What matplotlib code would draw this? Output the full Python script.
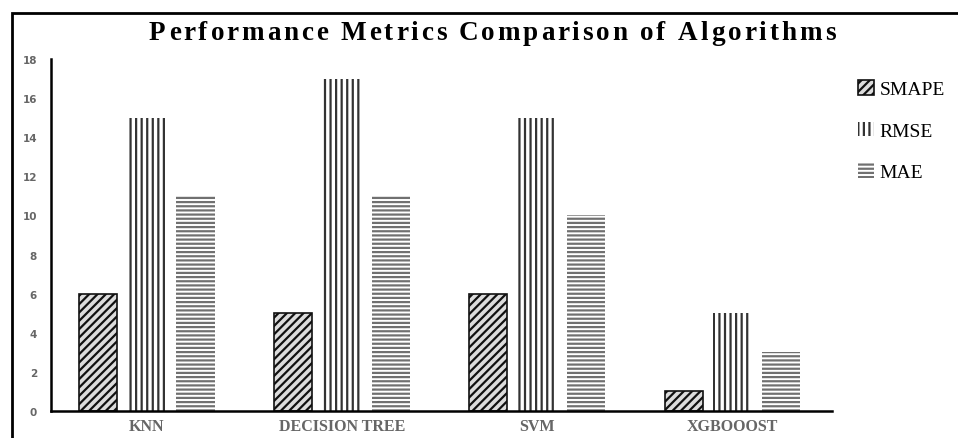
import numpy as np
import matplotlib.pyplot as plt
from matplotlib.patches import Rectangle
from matplotlib.textpath import TextPath
from matplotlib.font_manager import FontProperties

algorithms = ['KNN', 'DECISION TREE', 'SVM', 'XGBOOOST']
smape = [6, 5, 6, 1]
rmse = [15, 17, 15, 5]
mae = [11, 11, 10, 3]
yticks = [0, 2, 4, 6, 8, 10, 12, 14, 16, 18]
title = 'Performance Metrics Comparison of Algorithms'

plt.rcParams['hatch.linewidth'] = 1.6


def spaced_text(fig, s, x0, x1, y, fp):
    # lay out characters one by one so the string fills x0..x1 (pixels)
    widths = []
    for ch in s:
        if ch == ' ':
            w = TextPath((0, 0), 'a a', prop=fp).get_extents().width - \
                TextPath((0, 0), 'aa', prop=fp).get_extents().width
        else:
            w = TextPath((0, 0), ch + 'l', prop=fp).get_extents().width - \
                TextPath((0, 0), 'l', prop=fp).get_extents().width
        widths.append(w * 100 / 72)
    track = (x1 - x0 - sum(widths)) / (len(s) - 1)
    x = x0
    for ch, w in zip(s, widths):
        fig.text(x / 958, 1 - y / 439, ch, ha='left', va='center',
                 fontproperties=fp)
        x += w + track


fig = plt.figure(figsize=(9.58, 4.39), dpi=100)
ax = fig.add_axes([51 / 958, 27 / 439, 781 / 958, 352 / 439])

# outer frame of the picture
fig.patches.append(Rectangle((12 / 958, -0.05), 1.1, (439 - 14) / 439 + 0.05,
                             transform=fig.transFigure, fill=False,
                             edgecolor='black', linewidth=2))

x = np.arange(len(algorithms))
w = 0.195
b1 = ax.bar(x - 0.25, smape, w, facecolor='#dcdcdc', edgecolor='#111111',
            hatch='////', linewidth=1.2, label='SMAPE')
b2 = ax.bar(x, rmse, w, facecolor='white', edgecolor='#333333',
            hatch='|||', linewidth=0, label='RMSE')
b3 = ax.bar(x + 0.25, mae, w, facecolor='white', edgecolor='#707070',
            hatch='----', linewidth=0, label='MAE')

ax.set_xlim(-0.49, 3.51)
ax.set_ylim(0, 18)
ax.set_yticks(yticks)
ax.set_xticks(x)
ax.set_xticklabels(algorithms, fontfamily='Liberation Serif', fontweight='bold',
                   fontsize=11.5, color='#666666')
for lab in ax.get_yticklabels():
    lab.set_fontweight('bold')
    lab.set_fontsize(7.5)
    lab.set_color('#666666')
ax.tick_params(axis='both', length=0)
ax.tick_params(axis='y', pad=10)
ax.tick_params(axis='x', pad=5)
for s in ['top', 'right']:
    ax.spines[s].set_visible(False)
ax.spines['left'].set_linewidth(1.8)
ax.spines['bottom'].set_linewidth(1.8)

title_fp = FontProperties(family='Liberation Serif', weight='bold', size=19.5)
spaced_text(fig, title, 149, 835, 34, title_fp)

fig.legend(handles=[b1, b2, b3], loc='upper left',
           bbox_to_anchor=(858 / 958, 1 - 81 / 439), frameon=False,
           prop={'family': 'Liberation Serif', 'size': 14},
           handlelength=0.8, handleheight=0.8, handletextpad=0.3,
           labelspacing=1.2, borderaxespad=0, borderpad=0)

fig.savefig('out.png', dpi=100)
